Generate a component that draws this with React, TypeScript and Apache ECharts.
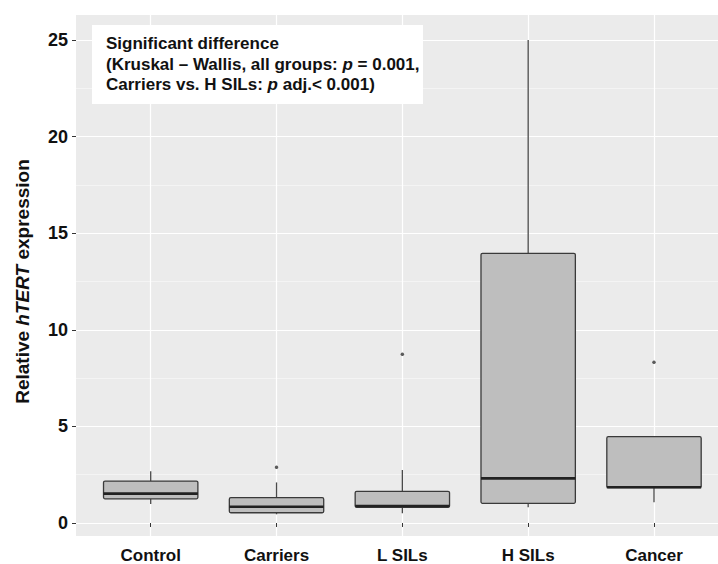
import React, { useEffect, useRef } from "react";
import * as echarts from "echarts";

const categories = ["Control", "Carriers", "L SILs", "H SILs", "Cancer"];
// [lower whisker, Q1, median, Q3, upper whisker]
const boxMin = [0.98, 0.45, 0.5, 0.81, 1.07];
const boxQ1 = [1.25, 0.53, 0.81, 1.02, 1.83];
const boxMedian = [1.52, 0.84, 0.88, 2.31, 1.85];
const boxQ3 = [2.17, 1.31, 1.64, 13.96, 4.47];
const boxMax = [2.68, 2.1, 2.74, 25.0, 4.47];
const outliers: [number, number][] = [
  [1, 2.88],
  [2, 8.73],
  [4, 8.32],
];
const yTicks = [0, 5, 10, 15, 20, 25];

const FONT = '"Liberation Sans", Arial, sans-serif';

export default function App() {
  const ref = useRef<HTMLDivElement>(null);
  useEffect(() => {
    if (!ref.current) return;
    const chart = echarts.init(ref.current, null, { renderer: "svg" });
    const boxData = categories.map((_, i) => [
      i,
      boxMin[i],
      boxQ1[i],
      boxMedian[i],
      boxQ3[i],
      boxMax[i],
    ]);
    const option: any = {
      animation: false,
      backgroundColor: "#ffffff",
      grid: [
        { left: 76, top: 40, width: 654, height: 483, containLabel: false },
        { left: 150.7, top: 15, width: 503.3, height: 521, containLabel: false },
      ],
      xAxis: [
        { type: "value", gridIndex: 0, show: false, min: 0, max: 1 },
        {
          type: "category",
          gridIndex: 1,
          data: categories,
          boundaryGap: false,
          axisLine: { show: false },
          axisTick: { show: true, length: 4, lineStyle: { color: "#333", width: 1 } },
          axisLabel: {
            margin: 11,
            color: "#111",
            fontFamily: FONT,
            fontWeight: "bold",
            fontSize: 17,
          },
          splitLine: { show: true, lineStyle: { color: "#ffffff", width: 1.2 } },
        },
      ],
      yAxis: [
        {
          type: "value",
          gridIndex: 0,
          min: yTicks[0],
          max: yTicks[yTicks.length - 1],
          interval: 5,
          name: "Relative {i|hTERT} expression",
          nameLocation: "middle",
          nameGap: 44,
          nameTextStyle: {
            color: "#111",
            fontFamily: FONT,
            fontWeight: "bold",
            fontSize: 19,
            rich: {
              i: {
                color: "#111",
                fontFamily: FONT,
                fontWeight: "bold",
                fontStyle: "italic",
                fontSize: 19,
              },
            },
          },
          axisLine: { show: false },
          axisTick: { show: true, length: 4, lineStyle: { color: "#333", width: 1 } },
          axisLabel: {
            margin: 8,
            color: "#111",
            fontFamily: FONT,
            fontWeight: "bold",
            fontSize: 18,
          },
          splitLine: { show: true, lineStyle: { color: "#ffffff", width: 1.2 } },
          minorTick: { show: false, splitNumber: 2 },
          minorSplitLine: { show: true, lineStyle: { color: "#F4F4F4", width: 1 } },
        },
        {
          type: "value",
          gridIndex: 1,
          min: -0.673,
          max: 26.294,
          show: false,
          splitLine: { show: false },
        },
      ],
      graphic: [
        {
          type: "rect",
          z: -100,
          silent: true,
          shape: { x: 76, y: 15, width: 660, height: 521 },
          style: { fill: "#EBEBEB" },
        },
        {
          type: "rect",
          z: 100,
          silent: true,
          shape: { x: 92, y: 25, width: 331, height: 79 },
          style: { fill: "#ffffff" },
        },
        {
          type: "text",
          z: 101,
          x: 106,
          y: 43,
          style: {
            text: "Significant difference",
            font: `bold 17px ${FONT}`,
            fill: "#111",
            verticalAlign: "middle",
          },
        },
        {
          type: "text",
          z: 101,
          x: 106,
          y: 64,
          style: {
            text: "{b|(Kruskal – Wallis, all groups: }{i|p}{b| = 0.001,}",
            verticalAlign: "middle",
            rich: {
              b: { fontFamily: FONT, fontWeight: "bold", fontSize: 17, fill: "#111" },
              i: { fontFamily: FONT, fontWeight: "bold", fontStyle: "italic", fontSize: 17, fill: "#111" },
            },
          },
        },
        {
          type: "text",
          z: 101,
          x: 106,
          y: 84,
          style: {
            text: "{b|Carriers vs. H SILs: }{i|p}{b| adj.< 0.001)}",
            verticalAlign: "middle",
            rich: {
              b: { fontFamily: FONT, fontWeight: "bold", fontSize: 17, fill: "#111" },
              i: { fontFamily: FONT, fontWeight: "bold", fontStyle: "italic", fontSize: 17, fill: "#111" },
            },
          },
        },
      ],
      series: [
        {
          type: "custom",
          xAxisIndex: 1,
          yAxisIndex: 1,
          clip: false,
          data: boxData,
          encode: { x: 0, y: [1, 2, 3, 4, 5] },
          renderItem: (params: any, api: any) => {
            const idx = api.value(0);
            const lo = api.coord([idx, api.value(1)]);
            const q1 = api.coord([idx, api.value(2)]);
            const med = api.coord([idx, api.value(3)]);
            const q3 = api.coord([idx, api.value(4)]);
            const hi = api.coord([idx, api.value(5)]);
            const bw = api.size([1, 0])[0] * 0.75;
            const x = lo[0];
            const wStyle = { stroke: "#4a4a4a", lineWidth: 1.3 };
            return {
              type: "group",
              children: [
                { type: "line", shape: { x1: x, y1: hi[1], x2: x, y2: q3[1] }, style: wStyle },
                { type: "line", shape: { x1: x, y1: q1[1], x2: x, y2: lo[1] }, style: wStyle },
                {
                  type: "rect",
                  shape: { x: x - bw / 2, y: q3[1], width: bw, height: q1[1] - q3[1], r: 1.5 },
                  style: { fill: "#BEBEBE", stroke: "#3a3a3a", lineWidth: 1.3 },
                },
                {
                  type: "line",
                  shape: { x1: x - bw / 2, y1: med[1], x2: x + bw / 2, y2: med[1] },
                  style: { stroke: "#222", lineWidth: 2.6 },
                },
              ],
            };
          },
          z: 5,
        },
        {
          type: "scatter",
          xAxisIndex: 1,
          yAxisIndex: 1,
          data: outliers,
          symbolSize: 3.5,
          itemStyle: { color: "#333" },
          z: 6,
        },
      ],
    };
    chart.setOption(option);
    return () => chart.dispose();
  }, []);
  return (
    <div
      ref={ref}
      style={{ position: "fixed", left: 0, top: 0, width: 718, height: 564 }}
    />
  );
}
